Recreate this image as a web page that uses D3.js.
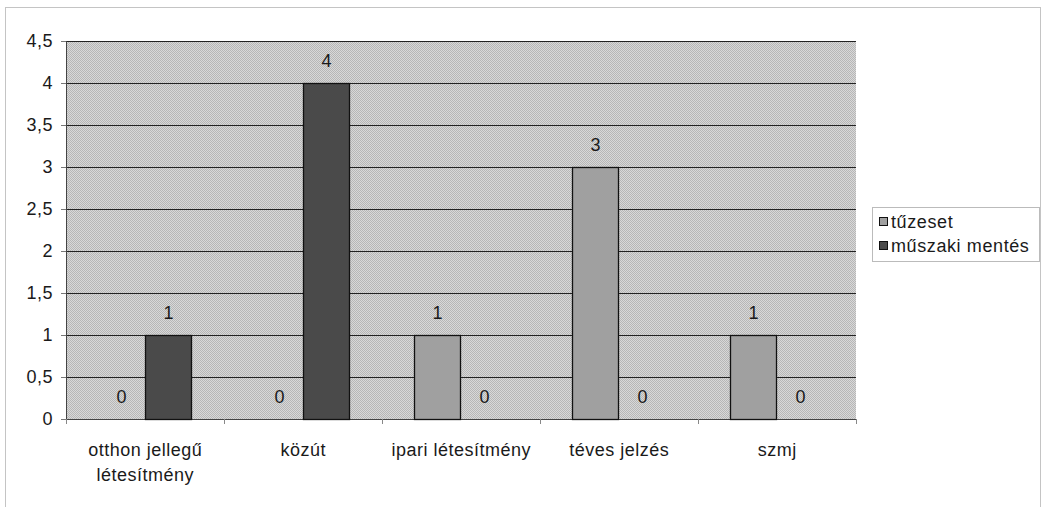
<!DOCTYPE html>
<html><head><meta charset="utf-8">
<script src="https://cdn.jsdelivr.net/npm/d3@7"></script>
<style>body{margin:0;background:#fff}svg{display:block;font-family:"Liberation Sans",Arial,sans-serif}</style>
</head><body>
<svg id="c" width="1043" height="507"></svg>
<script>
const categories = [["otthon jellegű","létesítmény"],["közút"],["ipari létesítmény"],["téves jelzés"],["szmj"]];
const seriesNames = ["tűzeset","műszaki mentés"];
const tuzeset = [0,0,1,3,1];
const muszaki = [1,4,0,0,0];
const yTicks = [0,0.5,1,1.5,2,2.5,3,3.5,4,4.5];
const colors = ["#a0a0a0","#4a4a4a"];

const svg = d3.select("#c");
const M = {l:66, r:856, t:41, b:419};
const FS = 18, LS = 0.5;
const defs = svg.append("defs");
const pat = defs.append("pattern").attr("id","dither").attr("width",2).attr("height",2).attr("patternUnits","userSpaceOnUse");
pat.append("rect").attr("width",2).attr("height",2).attr("fill","#d8d8d8");
pat.append("rect").attr("width",1).attr("height",1).attr("fill","#b6b6b6");
pat.append("rect").attr("x",1).attr("y",1).attr("width",1).attr("height",1).attr("fill","#b6b6b6");

// outer border
svg.append("rect").attr("x",5.5).attr("y",7.5).attr("width",1035).attr("height",505)
  .attr("fill","none").attr("stroke","#888").attr("stroke-dasharray","1,1");

const x = d3.scaleBand().domain(d3.range(categories.length)).range([M.l,M.r]);
const y = d3.scaleLinear().domain([0,4.5]).range([M.b,M.t]);
const inner = d3.scaleBand().domain([0,1]).range([0,x.bandwidth()]).paddingInner(0).paddingOuter(0.68);

svg.append("rect").attr("x",M.l).attr("y",M.t).attr("width",M.r-M.l).attr("height",M.b-M.t)
  .attr("fill","url(#dither)");

// gridlines
svg.append("g").selectAll("line").data(yTicks.filter(d=>d>0)).join("line")
  .attr("x1",M.l).attr("x2",M.r).attr("y1",d=>Math.round(y(d))+0.5).attr("y2",d=>Math.round(y(d))+0.5)
  .attr("stroke","#222").attr("stroke-width",1);

// y axis
const fmt = d => String(d).replace(".",",");
const ya = svg.append("g").attr("transform",`translate(${M.l},0)`)
  .call(d3.axisLeft(y).tickValues(yTicks).tickFormat(fmt).tickSize(5).tickPadding(8));
ya.select(".domain").attr("stroke","#444");
ya.selectAll(".tick line").attr("stroke","#777");
ya.selectAll("text").attr("font-size",FS).attr("letter-spacing",LS).attr("fill","#1a1a1a").attr("font-family","Liberation Sans, Arial");

// x axis
const xa = svg.append("g").attr("transform",`translate(0,${M.b})`)
  .call(d3.axisBottom(x).tickSize(0).tickFormat(""));
xa.select(".domain").attr("stroke","#444");
svg.append("g").selectAll("line").data(d3.range(categories.length+1)).join("line")
  .attr("x1",i=>Math.round(M.l+i*x.step())+0.5).attr("x2",i=>Math.round(M.l+i*x.step())+0.5)
  .attr("y1",M.b).attr("y2",M.b+5).attr("stroke","#888");

// category labels
const cl = svg.append("g").selectAll("text").data(categories).join("text")
  .attr("x",(d,i)=>x(i)+x.bandwidth()/2+LS/2).attr("y",456)
  .attr("text-anchor","middle").attr("font-size",FS).attr("letter-spacing",LS).attr("fill","#1a1a1a");
cl.selectAll("tspan").data(d=>d).join("tspan")
  .attr("x",function(){return this.parentNode.getAttribute("x");})
  .attr("dy",(d,i)=>i===0?0:25).text(d=>d);

// bars
const series = [tuzeset, muszaki];
series.forEach((vals,s)=>{
  const g = svg.append("g");
  g.selectAll("rect").data(vals).join("rect")
    .attr("x",(d,i)=>Math.round(x(i)+inner(s))+0.5)
    .attr("y",d=>Math.round(y(d))+0.5)
    .attr("width",Math.round(inner.bandwidth())-1)
    .attr("height",d=>Math.round(y(0))-Math.round(y(d)))
    .attr("fill",colors[s]).attr("stroke",d=>d>0?"#111":"none").attr("stroke-width",1.3);
  g.selectAll("text").data(vals).join("text")
    .attr("x",(d,i)=>x(i)+inner(s)+inner.bandwidth()/2+LS/2)
    .attr("y",d=>y(d)-16)
    .attr("text-anchor","middle").attr("font-size",FS).attr("letter-spacing",LS).attr("fill","#1a1a1a").text(d=>d);
});

// legend
const lg = svg.append("g");
lg.append("rect").attr("x",872.5).attr("y",207.5).attr("width",167).attr("height",54)
  .attr("fill","#fff").attr("stroke","#777").attr("stroke-dasharray","1,1");
seriesNames.forEach((n,i)=>{
  lg.append("rect").attr("x",879.5).attr("y",217.5+i*24).attr("width",8).attr("height",8)
    .attr("fill",colors[i]).attr("stroke","#111");
  lg.append("text").attr("x",891).attr("y",228+i*24).attr("font-size",FS).attr("letter-spacing",0.6)
    .attr("fill","#1a1a1a").text(n);
});
</script>
</body></html>
